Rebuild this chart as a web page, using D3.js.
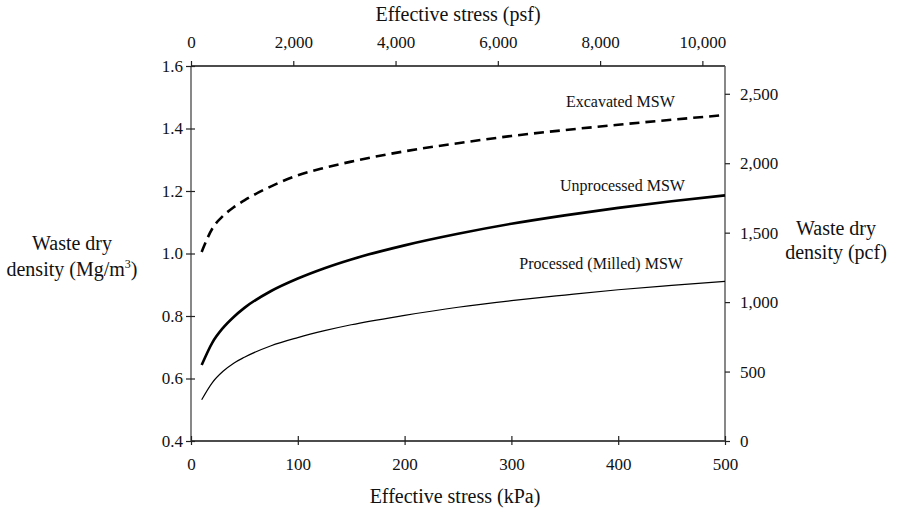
<!DOCTYPE html>
<html>
<head>
<meta charset="utf-8">
<script src="https://cdn.jsdelivr.net/npm/d3@7"></script>
<style>
body { margin: 0; background: #fff; }
text { font-family: "Liberation Serif", "Times New Roman", serif; fill: #111; }
</style>
</head>
<body>
<div id="chart"></div>
<script>
var stress = [10, 20, 30, 40, 50, 75, 100, 125, 150, 200, 250, 300, 350, 400, 450, 500];
// waste dry density (Mg/m3)
var excavated   = [1.005, 1.08, 1.12, 1.148, 1.17, 1.215, 1.25, 1.274, 1.294, 1.327, 1.353, 1.376, 1.395, 1.412, 1.428, 1.443];
var unprocessed = [0.643, 0.715, 0.762, 0.797, 0.826, 0.88, 0.92, 0.953, 0.981, 1.026, 1.063, 1.095, 1.122, 1.146, 1.167, 1.186];
var processed   = [0.532, 0.587, 0.623, 0.649, 0.668, 0.705, 0.731, 0.753, 0.772, 0.802, 0.828, 0.849, 0.867, 0.884, 0.898, 0.911];

var kpaTicks = [0, 100, 200, 300, 400, 500];
var psfTicks = [0, 2000, 4000, 6000, 8000, 10000];
var densTicks = [0.4, 0.6, 0.8, 1.0, 1.2, 1.4, 1.6];
var rightTicks = [0, 500, 1000, 1500, 2000, 2500];

var W = 898, H = 512;
var plotL = 191, plotR = 725, plotT = 66, plotB = 441;

var svg = d3.select("#chart").append("svg")
	.attr("width", W)
	.attr("height", H);

var x = d3.scaleLinear().domain([0, 500]).range([plotL, plotR]);
var xPsf = d3.scaleLinear().domain([0, 500 * 20.885]).range([plotL, plotR]);
var y = d3.scaleLinear().domain([0.4, 1.6]).range([plotB, plotT]);
var yRight = d3.scaleLinear().domain([0, 2700]).range([plotB, plotT]);

var fmt = d3.format(",");

// frame: horizontal lines black, vertical ones a bit greyer
svg.append("line").attr("x1", plotL).attr("x2", plotR).attr("y1", plotT).attr("y2", plotT)
	.attr("stroke", "#111").attr("stroke-width", 1.4);
svg.append("line").attr("x1", plotL).attr("x2", plotR).attr("y1", plotB).attr("y2", plotB)
	.attr("stroke", "#111").attr("stroke-width", 1.4);
svg.append("line").attr("x1", plotL).attr("x2", plotL).attr("y1", plotT).attr("y2", plotB)
	.attr("stroke", "#555").attr("stroke-width", 1.4);
svg.append("line").attr("x1", plotR).attr("x2", plotR).attr("y1", plotT).attr("y2", plotB)
	.attr("stroke", "#555").attr("stroke-width", 1.4);

// bottom axis
var gb = svg.append("g").attr("transform", "translate(0," + plotB + ")")
	.call(d3.axisBottom(x).tickValues(kpaTicks).tickSizeInner(4).tickSizeOuter(0).tickPadding(13));
gb.selectAll(".tick line").attr("y1", -5).attr("y2", 4);

// top axis (psf)
var gt = svg.append("g").attr("transform", "translate(0," + plotT + ")")
	.call(d3.axisTop(xPsf).tickValues(psfTicks).tickFormat(fmt).tickSizeInner(5).tickSizeOuter(0).tickPadding(13));

// left axis
var gl = svg.append("g").attr("transform", "translate(" + plotL + ",0)")
	.call(d3.axisLeft(y).tickValues(densTicks).tickFormat(d3.format(".1f")).tickSizeInner(5).tickSizeOuter(0).tickPadding(3));
gl.selectAll(".tick line").attr("x1", -5).attr("x2", 4);

// right axis
var gr = svg.append("g").attr("transform", "translate(" + plotR + ",0)")
	.call(d3.axisRight(yRight).tickValues(rightTicks).tickFormat(fmt).tickSizeInner(5).tickSizeOuter(0).tickPadding(10));

svg.selectAll(".domain").remove();
svg.selectAll(".tick line").attr("stroke", "#222").attr("stroke-width", 1.2);
svg.selectAll("g").attr("font-family", null).attr("font-size", null);
svg.selectAll(".tick text")
	.style("font-size", "17px")
	.attr("fill", "#111");

// curves
var line = d3.line()
	.curve(d3.curveMonotoneX)
	.x(function(d) { return x(d[0]); })
	.y(function(d) { return y(d[1]); });

function pairs(vals) {
	return stress.map(function(s, i) { return [s, vals[i]]; });
}

svg.append("path").datum(pairs(excavated))
	.attr("d", line).attr("fill", "none")
	.attr("stroke", "#000").attr("stroke-width", 2.6)
	.attr("stroke-dasharray", "10,6");

svg.append("path").datum(pairs(unprocessed))
	.attr("d", line).attr("fill", "none")
	.attr("stroke", "#000").attr("stroke-width", 2.6);

svg.append("path").datum(pairs(processed))
	.attr("d", line).attr("fill", "none")
	.attr("stroke", "#000").attr("stroke-width", 1.2);

// curve labels
var labels = [
	{ text: "Excavated MSW", s: 402, v: 1.468 },
	{ text: "Unprocessed MSW", s: 404, v: 1.199 },
	{ text: "Processed (Milled) MSW", s: 384, v: 0.949 }
];
svg.selectAll(".curve-label").data(labels).enter().append("text")
	.attr("class", "curve-label")
	.attr("x", function(d) { return x(d.s); })
	.attr("y", function(d) { return y(d.v); })
	.attr("text-anchor", "middle")
	.style("font-size", "16px")
	.text(function(d) { return d.text; });

// axis titles
svg.append("text")
	.attr("x", (plotL + plotR) / 2).attr("y", 21)
	.attr("text-anchor", "middle").style("font-size", "20px")
	.text("Effective stress (psf)");

svg.append("text")
	.attr("x", (plotL + plotR) / 2 - 3).attr("y", 503)
	.attr("text-anchor", "middle").style("font-size", "20px")
	.text("Effective stress (kPa)");

var lt = svg.append("text").attr("text-anchor", "middle").style("font-size", "20px");
lt.append("tspan").attr("x", 72).attr("y", 250).text("Waste dry");
lt.append("tspan").attr("x", 72).attr("y", 276).text("density (Mg/m");
lt.append("tspan").attr("dy", -8).style("font-size", "12px").text("3");
lt.append("tspan").attr("dy", 8).text(")");

var rt = svg.append("text").attr("text-anchor", "middle").style("font-size", "20px");
rt.append("tspan").attr("x", 836).attr("y", 235).text("Waste dry");
rt.append("tspan").attr("x", 836).attr("y", 259).text("density (pcf)");
</script>
</body>
</html>
